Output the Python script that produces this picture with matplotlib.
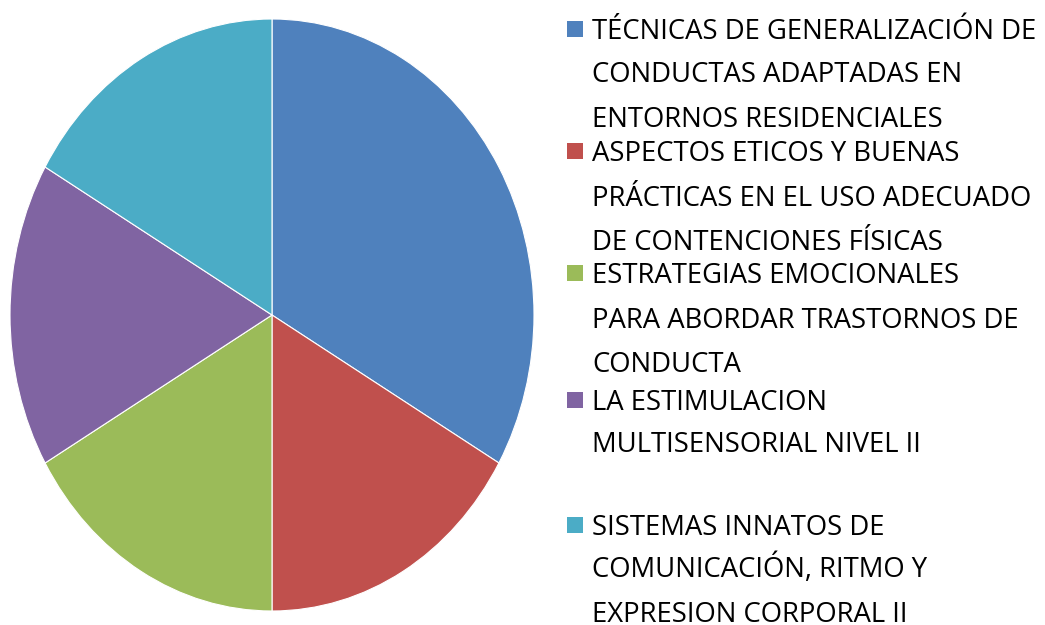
import matplotlib
matplotlib.use("Agg")
import matplotlib.pyplot as plt
from matplotlib.patches import Rectangle

# course share (blue slice takes a third, the rest a sixth each)
values = [2, 1, 1, 1, 1]
colors = ["#4F81BD", "#C0504D", "#9BBB59", "#8064A2", "#4BACC6"]
labels = [
    ["TÉCNICAS DE GENERALIZACIÓN DE", "CONDUCTAS ADAPTADAS EN", "ENTORNOS RESIDENCIALES"],
    ["ASPECTOS ETICOS Y BUENAS", "PRÁCTICAS EN EL USO ADECUADO", "DE CONTENCIONES FÍSICAS"],
    ["ESTRATEGIAS EMOCIONALES", "PARA ABORDAR TRASTORNOS DE", "CONDUCTA"],
    ["LA ESTIMULACION", "MULTISENSORIAL NIVEL II"],
    ["SISTEMAS INNATOS DE", "COMUNICACIÓN, RITMO Y", "EXPRESION CORPORAL II"],
]
# vertical centre (px from top) of each legend text line
line_y = [
    [29, 72, 117],
    [151, 196, 240],
    [273, 318, 362],
    [400, 442],
    [525, 567, 612],
]

W, H = 1045, 625
fig = plt.figure(figsize=(W / 100, H / 100), dpi=100)

# stretched pie: centre (272, 315), radii 262 x 296 px
cx, cy, rx, ry = 272, 315, 262, 296
ax = fig.add_axes([(cx - rx) / W, (H - cy - ry) / H, 2 * rx / W, 2 * ry / H])
ax.pie(values, colors=colors, startangle=90, counterclock=False,
       wedgeprops=dict(edgecolor="white", linewidth=0.8))
ax.set_aspect("auto")
ax.set_xlim(-1, 1)
ax.set_ylim(-1, 1)
ax.axis("off")

font = dict(family=["Open Sans", "DejaVu Sans"], size=19.8, color="black")
sq = 16
for col, lines, ys in zip(colors, labels, line_y):
    y0 = ys[0]
    fig.patches.append(Rectangle((567 / W, (H - y0 - sq / 2) / H), sq / W, sq / H,
                                 transform=fig.transFigure, facecolor=col,
                                 edgecolor="none"))
    for txt, y in zip(lines, ys):
        fig.text(592 / W, (H - y - 10) / H, txt, ha="left", va="baseline", **font)

fig.savefig("out.png", dpi=100)
